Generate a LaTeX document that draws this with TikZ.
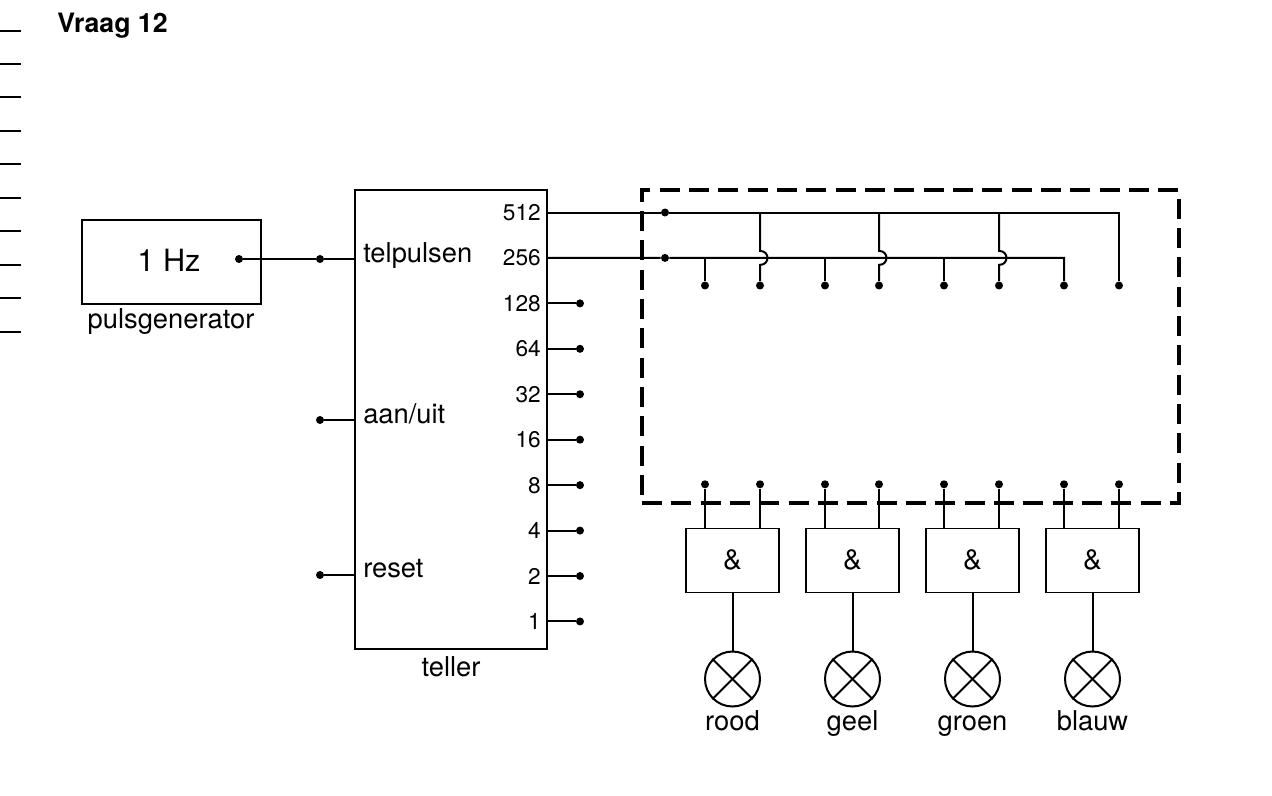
\documentclass[tikz,border=0pt]{standalone}
\usepackage{fontspec}
\setmainfont{TeX Gyre Heros}
\usetikzlibrary{calc}
\begin{document}
\begin{tikzpicture}[x=0.75pt,y=-0.75pt,
  wire/.style={line width=1.5pt},
  thinbox/.style={draw,line width=0.9pt,inner sep=0pt},
  dot/.style={circle,fill,inner sep=0pt,minimum size=6pt},
  txt/.style={inner sep=0pt,font=\fontsize{20.5}{24}\selectfont},
  num/.style={inner sep=0pt,font=\fontsize{17}{20}\selectfont},
  lamp/.style={circle,draw,line width=1.5pt,inner sep=0pt,minimum size=41.25pt},
  gate/.style={thinbox,minimum width=69.75pt,minimum height=48pt,font=\fontsize{21}{24}\selectfont},
  dashbox/.style={draw,line width=2.4pt,dash pattern=on 15pt off 7pt,inner sep=0pt,minimum width=402.75pt,minimum height=234.75pt}
]
\useasboundingbox (0,0) rectangle (1272,796);

% margin ticks
\foreach \y/\w in {31/0.8,64/0.8,97/1.3,131/0.8,164/1.3,198/0.8,231/0.8,265/0.8,298/0.8,332/1.3}
  \draw[line width=\w pt] (0,\y) -- (21,\y);

\node[txt,anchor=base west,font=\bfseries\fontsize{20}{24}\selectfont] (title) at (57,32) {Vraag 12};

% pulse generator
\node[thinbox,minimum width=134.25pt,minimum height=63pt] (pg) at (171.5,262) {};
\node[txt,anchor=base,font=\fontsize{23}{27}\selectfont] (hz) at (169,271) {1 Hz};
\node[txt,anchor=base] (pgl) at (171,328) {pulsgenerator};
\node[dot] (pgout) at (239,259) {};

% counter
\node[draw,line width=1.5pt,inner sep=0pt,minimum width=144pt,minimum height=344.6pt] (teller) at (451,419.3) {};
\node[txt,anchor=base] (tl) at (451,676) {teller};

\node[txt,anchor=mid west] (tp) at (363,259) {telpulsen};
\node[txt,anchor=mid west] (au) at (363,420) {aan/uit};
\node[txt,anchor=mid west] (rs) at (363,574) {reset};
\node[dot] (tpd) at (320,259) {};
\node[dot] (aud) at (320,420) {};
\node[dot] (rsd) at (320,575) {};
\draw[wire] (pgout) -- (tpd) -- (teller.west |- tpd);
\draw[wire] (aud) -- (teller.west |- aud);
\draw[wire] (rsd) -- (teller.west |- rsd);

\foreach \v [count=\i from 0] in {512,256,128,64,32,16,8,4,2,1} {
  \pgfmathsetmacro\yy{212.5+45.44*\i}
  \node[num,anchor=east] (o\i) at (541,\yy) {\v};
  \coordinate (c\i) at (teller.east |- o\i);
}
\foreach \i in {2,...,9} {
  \node[dot] (d\i) at (580,{212.5+45.44*\i}) {};
  \draw[wire] (c\i) -- (d\i);
}

% dashed box
\node[dashbox] (db) at (910.5,346.5) {};

% wiring inside
\node[dot] (j1) at (665,212.5) {};
\node[dot] (j2) at (665,257.9) {};
\foreach \x [count=\k] in {705,760,825,879,944,999,1064,1119} {
  \node[dot] (t\k) at (\x,285.5) {};
  \node[dot] (b\k) at (\x,484.3) {};
}
\draw[wire] (c0) -- (j1) -- (j1 -| t8) -- (t8);
\draw[wire] (c1) -- (j2) -- (j2 -| t7) -- (t7);
\foreach \k in {1,3,5}
  \draw[wire] (j2 -| t\k) -- (t\k);
\foreach \k in {2,4,6}
  \draw[wire] (j1 -| t\k) -- ($(j2 -| t\k)+(0,-7)$) .. controls +(10,0) and +(10,0) .. ($(j2 -| t\k)+(0,7)$) -- (t\k);

% gates and lamps
\foreach \gx/\name [count=\g] in {732.5/rood,852.5/geel,972.5/groen,1092.5/blauw} {
  \node[gate] (g\g) at (\gx,560.3) {\&};
  \node[lamp] (l\g) at (\gx,679) {};
  \draw[line width=1.5pt] (l\g.north west) -- (l\g.south east);
  \draw[line width=1.5pt] (l\g.north east) -- (l\g.south west);
  \draw[wire] (g\g) -- (l\g);
  \node[txt,anchor=base] (n\g) at (\gx,730) {\name};
}
\foreach \g/\a/\b in {1/1/2,2/3/4,3/5/6,4/7/8} {
  \draw[wire] (b\a) -- (b\a |- g\g.north);
  \draw[wire] (b\b) -- (b\b |- g\g.north);
}
\end{tikzpicture}
\end{document}
